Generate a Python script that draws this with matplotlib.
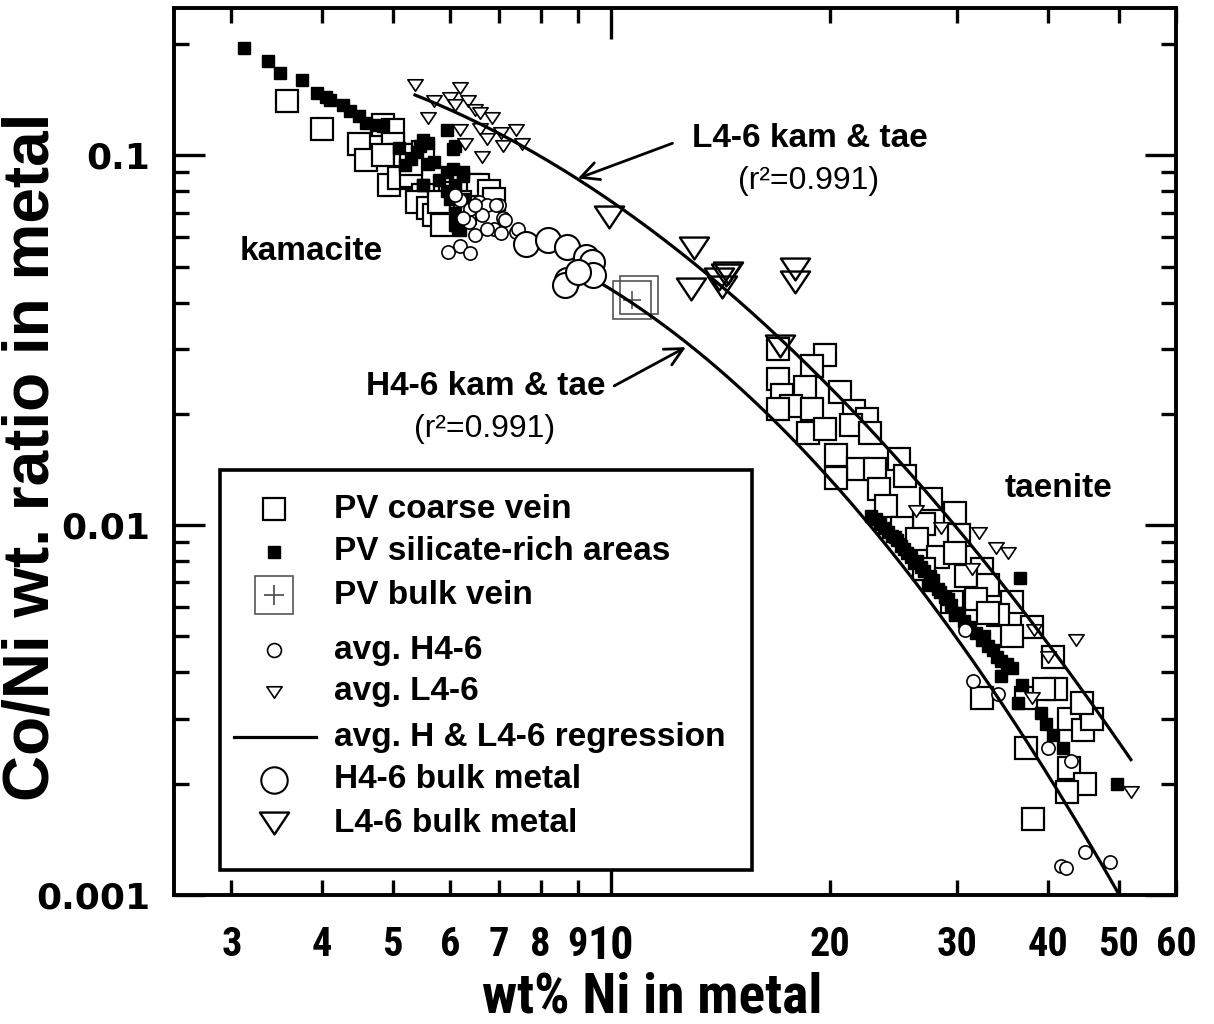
import matplotlib
matplotlib.use("Agg")
import numpy as np
import matplotlib.pyplot as plt
from matplotlib import font_manager
from matplotlib.path import Path
from matplotlib.patches import Rectangle
from matplotlib.ticker import LogLocator, NullFormatter

names = {f.name for f in font_manager.fontManager.ttflist}
SANS = "Liberation Sans"
WIDE = "DejaVu Sans"
NARROW = next((n for n in ("Liberation Sans Narrow", "Roboto Condensed") if n in names), None)
if NARROW:
    XLAB_SIZE, XMINOR_SIZE, XMAJOR_SIZE = 40, 29, 33
else:
    NARROW = SANS
    XLAB_SIZE, XMINOR_SIZE, XMAJOR_SIZE = 35, 26, 29

# ---- PV coarse vein (open squares)
pv_coarse_x = [3.58, 4.0, 4.49, 4.6, 4.85, 5.0, 5.0, 5.1, 5.16, 4.95, 5.1, 5.3, 5.5, 5.4,
               5.6, 5.7, 5.85, 6.4, 6.55, 6.8, 6.9, 6.2, 4.85, 5.2, 5.5, 5.3, 6.0, 5.8, 6.3,
               17.0, 19.7, 18.9, 17.0, 18.5, 20.7, 17.2, 17.7, 18.9, 21.6, 22.5, 17.0, 18.7,
               19.7, 21.4, 22.7, 20.4, 21.9, 23.1, 24.9, 25.4, 20.4, 23.4, 23.9, 27.6, 29.8,
               27.0, 25.2, 26.4, 30.1, 28.2, 29.8, 27.0, 32.4, 30.8, 33.1, 31.8, 35.7, 34.1,
               29.5, 38.0, 33.1, 35.7, 40.6, 41.0, 37.3, 32.4, 42.8, 44.7, 46.0, 37.3, 42.8,
               44.9, 42.4, 38.1, 39.5, 44.5]
pv_coarse_y = [0.140, 0.118, 0.107, 0.097, 0.121, 0.117, 0.107, 0.100, 0.094, 0.083, 0.087,
               0.088, 0.078, 0.075, 0.072, 0.069, 0.065, 0.083, 0.083, 0.080, 0.076, 0.075,
               0.100, 0.100, 0.102, 0.095, 0.079, 0.075, 0.070,
               0.0300, 0.0288, 0.0270, 0.0249, 0.0237, 0.0229, 0.0225, 0.0210, 0.0206, 0.0203,
               0.0194, 0.0206, 0.0178, 0.0182, 0.0186, 0.0178, 0.0155, 0.0142, 0.0142, 0.0151,
               0.0136, 0.0134, 0.0125, 0.0113, 0.0118, 0.0108, 0.0101, 0.0098, 0.0092, 0.0094,
               0.0082, 0.0084, 0.0076, 0.0076, 0.0073, 0.0069, 0.0063, 0.0062, 0.0057, 0.0062,
               0.0053, 0.0058, 0.0050, 0.0044, 0.0036, 0.0034, 0.0034, 0.0030, 0.0028, 0.0030,
               0.0025, 0.0022, 0.0020, 0.0019, 0.0016, 0.0036, 0.0033]

# ---- PV silicate-rich areas (filled squares)
pv_sil_x = [3.12, 3.37, 3.5, 3.75, 3.93, 4.05, 4.1, 4.27, 4.37, 4.5, 4.6, 4.75, 4.85,
            5.46, 5.6, 5.95, 6.05, 5.2, 5.7, 5.95, 6.25, 5.5, 5.8, 6.1, 6.0, 6.25, 6.1,
            6.1, 6.2, 5.5, 6.1, 5.5, 6.05, 6.25, 5.95, 6.15, 5.1, 5.3, 5.4, 5.6,
            23.2, 24.4, 25.1, 26.1, 27.5, 28.8, 29.4, 29.8, 32.4, 33.0, 34.4, 35.1, 34.4,
            36.6, 36.8, 36.4, 39.1, 29.8, 32.6, 35.7, 39.7, 40.6, 41.9, 49.8, 23.8, 24.8,
            25.6, 26.7, 27.3, 28.2, 31.2, 31.8,
            22.8, 23.5, 24.1, 24.6, 25.3, 25.9, 26.4, 27.0, 27.8, 28.4, 29.1, 30.1, 30.6,
            33.6, 34.0]
pv_sil_y = [0.195, 0.180, 0.167, 0.160, 0.147, 0.144, 0.141, 0.137, 0.132, 0.128, 0.122,
            0.121, 0.120, 0.106, 0.108, 0.117, 0.104, 0.094, 0.096, 0.090, 0.090, 0.083,
            0.086, 0.083, 0.076, 0.076, 0.070, 0.065, 0.063, 0.110, 0.106, 0.083, 0.092,
            0.088, 0.080, 0.064, 0.105, 0.098, 0.102, 0.095,
            0.0104, 0.00935, 0.0088, 0.0079, 0.0073, 0.0064, 0.0061, 0.0057, 0.0049,
            0.0047, 0.0043, 0.0042, 0.0039, 0.0072, 0.0037, 0.0033, 0.0031, 0.0058,
            0.0050, 0.0041, 0.0029, 0.0027, 0.0025, 0.0020, 0.0098, 0.0091, 0.0084,
            0.0077, 0.0069, 0.0067, 0.0053, 0.0051,
            0.0106, 0.0101, 0.0096, 0.0093, 0.0086, 0.0082, 0.0080, 0.0075, 0.0071,
            0.0066, 0.0063, 0.0058, 0.0055, 0.0046, 0.0044]

# ---- PV bulk vein
pv_bulk_x = [10.68, 10.92]
pv_bulk_y = [0.0407, 0.0420]

# ---- avg. H4-6 (small circles)
avg_h_x = [6.2, 6.4, 6.57, 6.75, 7.0, 6.38, 6.65, 6.9, 7.1, 7.4, 7.05, 6.5, 6.75, 5.97,
           6.2, 6.4, 6.1, 6.25, 6.5, 6.95, 7.15, 7.45,
           30.7, 31.5, 34.1, 40.0, 43.0, 41.6, 42.3, 44.9, 48.6]
avg_h_y = [0.0757, 0.0718, 0.0750, 0.0734, 0.0734, 0.0660, 0.0690, 0.0634, 0.0675, 0.0621,
           0.0615, 0.0608, 0.0634, 0.0548, 0.0570, 0.0543, 0.0780, 0.0675, 0.0734, 0.0734,
           0.0668, 0.0634,
           0.0052, 0.0038, 0.0035, 0.0025, 0.0023, 0.0012, 0.00118, 0.00131, 0.00123]

# ---- avg. L4-6 (small triangles)
avg_l_x = [5.37, 6.2, 5.7, 6.0, 5.6, 6.1, 6.35, 6.5, 6.6, 6.85, 6.2, 6.6, 6.75, 7.05, 7.1,
           6.65, 7.4, 7.55, 6.3,
           26.3, 28.5, 32.1, 33.9, 35.2, 31.4, 38.3, 43.7, 40.0, 38.0, 52.0]
avg_l_y = [0.155, 0.152, 0.140, 0.143, 0.126, 0.137, 0.140, 0.133, 0.130, 0.126, 0.117,
           0.118, 0.111, 0.115, 0.106, 0.099, 0.117, 0.107, 0.107,
           0.0109, 0.0098, 0.0095, 0.0087, 0.0084, 0.0076, 0.0052, 0.0049, 0.0044, 0.0034,
           0.0019]

# ---- bulk metal
h_bulk_x = [7.64, 8.18, 8.7, 9.25, 9.4, 8.7, 8.65, 9.45, 9.0]
h_bulk_y = [0.0577, 0.0590, 0.0565, 0.0531, 0.0515, 0.0460, 0.0445, 0.0474, 0.0484]
l_bulk_x = [9.95, 13.0, 12.9, 14.1, 14.4, 14.2, 14.5, 17.9, 17.9, 17.1]
l_bulk_y = [0.0682, 0.0560, 0.0436, 0.0464, 0.0474, 0.0441, 0.0480, 0.0494, 0.0455, 0.0306]

# ---- quadratic regressions in log-log space: log y = a + b log x + c (log x)^2
fit_h = (-1.7435, 1.981, -1.60)
fit_h_span = (9.0, 50.0)
fit_l = (-0.834, 0.77, -1.06)
fit_l_span = (5.37, 52.0)


def fit_curve(coef, span):
    lx = np.linspace(np.log10(span[0]), np.log10(span[1]), 300)
    a, b, c = coef
    return 10 ** lx, 10 ** (a + b * lx + c * lx ** 2)


TRI = Path([(-1, 0.75), (1, 0.75), (0, -0.75), (-1, 0.75)],
           [Path.MOVETO, Path.LINETO, Path.LINETO, Path.CLOSEPOLY])
GREY = "#555555"

fig = plt.figure(figsize=(12.14, 10.24), dpi=100)
ax = fig.add_axes([0.1433, 0.126, 0.8254, 0.866])
ax.set_xscale("log")
ax.set_yscale("log")
ax.set_xlim(2.5, 60)
ax.set_ylim(0.001, 0.25)

open_kw = dict(ls="none", mfc="white", mec="black")
ax.plot(pv_coarse_x, pv_coarse_y, "s", ms=15.5, mew=1.6, zorder=2, **open_kw)
ax.plot(pv_sil_x, pv_sil_y, "s", ms=8.2, mfc="black", mec="black", ls="none", zorder=3)
ax.plot(avg_h_x, avg_h_y, "o", ms=9.5, mew=1.2, zorder=4, **open_kw)
ax.plot(avg_l_x, avg_l_y, marker=TRI, ms=11, mew=1.2, zorder=4, **open_kw)
ax.plot(h_bulk_x, h_bulk_y, "o", ms=18, mew=1.5, zorder=7, **open_kw)
ax.plot(l_bulk_x, l_bulk_y, marker=TRI, ms=21, mew=1.7, zorder=5, ls="none",
        mfc="none", mec="black")
ax.plot(pv_bulk_x, pv_bulk_y, "s", ms=27, mew=1.2, mfc="none", mec=GREY, ls="none", zorder=5)
ax.plot(pv_bulk_x[:1], pv_bulk_y[:1], "+", ms=13, mew=1.2, mec=GREY, ls="none", zorder=5)

for coef, span in ((fit_h, fit_h_span), (fit_l, fit_l_span)):
    fx, fy = fit_curve(coef, span)
    ax.plot(fx, fy, color="black", lw=2.3, zorder=6)

# annotations
bold = dict(family=SANS, fontweight="bold", fontsize=24, ha="center", va="center")
plain = dict(family=SANS, fontsize=23, ha="center", va="center")
ax.text(18.78, 0.1110, "L4-6 kam & tae", **bold)
ax.text(18.7, 0.0855, "(r²=0.991)", **plain)
ax.text(6.72, 0.02370, "H4-6 kam & tae", **bold)
ax.text(6.69, 0.01820, "(r²=0.991)", **plain)
ax.text(3.86, 0.0550, "kamacite", **bold)
ax.text(41.3, 0.01255, "taenite", **bold)
arrow = dict(arrowstyle="->", lw=2, color="black", mutation_scale=32, shrinkA=0, shrinkB=0)
ax.annotate("", xy=(9.0, 0.0866), xytext=(12.15, 0.1078), arrowprops=arrow, zorder=8)
ax.annotate("", xy=(12.68, 0.0303), xytext=(10.1, 0.0238), arrowprops=arrow, zorder=8)

# legend box drawn by hand
ax.add_patch(Rectangle((0.046, 0.028), 0.531, 0.451, transform=ax.transAxes,
                       fc="white", ec="black", lw=2.6, zorder=10))
mx, tx = 0.100, 0.160
rows = [0.435, 0.387, 0.338, 0.276, 0.229, 0.178, 0.130, 0.081]
labels = ["PV coarse vein", "PV silicate-rich areas", "PV bulk vein", "avg. H4-6",
          "avg. L4-6", "avg. H & L4-6 regression", "H4-6 bulk metal", "L4-6 bulk metal"]
lk = dict(transform=ax.transAxes, ls="none", zorder=11, clip_on=False)
ax.plot([mx], [rows[0]], "s", ms=16, mew=1.6, mfc="white", mec="black", **lk)
ax.plot([mx], [rows[1]], "s", ms=8.5, mfc="black", mec="black", **lk)
ax.plot([mx], [rows[2]], "s", ms=27, mew=1.2, mfc="none", mec=GREY, **lk)
ax.plot([mx], [rows[2]], "+", ms=14, mew=1.3, mec=GREY, **lk)
ax.plot([mx], [rows[3]], "o", ms=10, mew=1.2, mfc="white", mec="black", **lk)
ax.plot([mx], [rows[4]], marker=TRI, ms=11, mew=1.2, mfc="white", mec="black", **lk)
ax.plot([mx - 0.040, mx + 0.042], [rows[5]] * 2, color="black", lw=2.3,
        transform=ax.transAxes, zorder=11)
ax.plot([mx], [rows[6]], "o", ms=19, mew=1.5, mfc="white", mec="black", **lk)
ax.plot([mx], [rows[7]], marker=TRI, ms=21, mew=1.7, mfc="white", mec="black", **lk)
for ry, lab in zip(rows, labels):
    ax.text(tx, ry, lab, transform=ax.transAxes, family=SANS, fontweight="bold",
            fontsize=24, va="center", ha="left", zorder=12)

# axes, ticks
for s in ax.spines.values():
    s.set_linewidth(2.8)
ax.set_xticks([10], ["10"])
minor_x = [3, 4, 5, 6, 7, 8, 9, 20, 30, 40, 50, 60]
ax.set_xticks(minor_x, [str(v) for v in minor_x], minor=True)
ax.set_yticks([0.001, 0.01, 0.1], ["0.001", "0.01", "0.1"])
ax.yaxis.set_minor_locator(LogLocator(base=10, subs=np.arange(2, 10)))
ax.yaxis.set_minor_formatter(NullFormatter())
ax.tick_params(which="both", direction="in", top=True, right=True, width=2.4)
ax.tick_params(axis="x", which="major", length=22, pad=21)
ax.tick_params(axis="x", which="minor", length=11, pad=22)
ax.tick_params(axis="y", which="major", length=22, pad=17)
ax.tick_params(axis="y", which="minor", length=11)
for lab in ax.get_xticklabels(which="minor"):
    lab.set_family(NARROW)
    lab.set_fontweight("bold")
    lab.set_fontsize(XMINOR_SIZE)
for lab in ax.get_xticklabels(which="major"):
    lab.set_family(NARROW)
    lab.set_fontweight("bold")
    lab.set_fontsize(XMAJOR_SIZE)
for lab in ax.get_yticklabels():
    lab.set_family(WIDE)
    lab.set_fontweight("bold")
    lab.set_fontsize(26)

ax.set_xlabel("wt% Ni in metal", family=NARROW, fontweight="bold", fontsize=XLAB_SIZE)
ax.set_ylabel("Co/Ni wt. ratio in metal", family=SANS, fontweight="bold", fontsize=46)
ax.xaxis.set_label_coords(0.477, -0.086)
ax.yaxis.set_label_coords(-0.112, 0.494)

fig.savefig("out.png", dpi=100)
